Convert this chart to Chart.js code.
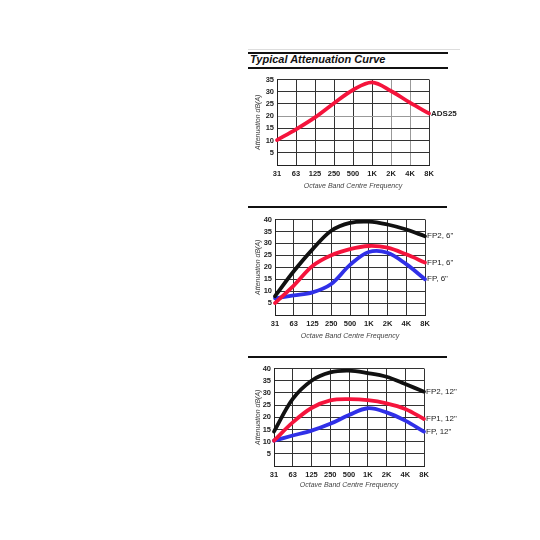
<!DOCTYPE html>
<html>
<head>
<meta charset="utf-8">
<script src="https://cdn.jsdelivr.net/npm/chart.js@4.4.0/dist/chart.umd.min.js"></script>
<style>
  html, body { margin: 0; padding: 0; background: #fff; }
  body { width: 540px; height: 540px; position: relative; overflow: hidden; font-family: "Liberation Sans", Arial, sans-serif; }
  .box { position: absolute; }
  .rule { position: absolute; background: #111; }
  #title { position: absolute; left: 250px; top: 53px; font: italic bold 11px "Liberation Sans", Arial, sans-serif; color: #111; }
</style>
</head>
<body>
<div class="rule" style="left:248px;top:49px;width:212px;height:1px;background:#ddd"></div>
<div class="rule" style="left:248px;top:52px;width:200px;height:2px"></div>
<div id="title">Typical Attenuation Curve</div>
<div class="rule" style="left:248px;top:67px;width:200px;height:2px"></div>
<div class="rule" style="left:248px;top:206px;width:199px;height:2px"></div>
<div class="rule" style="left:248px;top:356px;width:199px;height:2px"></div>

<div class="box" style="left:248px;top:72px;width:222px;height:125px"><canvas id="c1"></canvas></div>
<div class="box" style="left:248px;top:212px;width:222px;height:135px"><canvas id="c2"></canvas></div>
<div class="box" style="left:248px;top:361px;width:222px;height:135px"><canvas id="c3"></canvas></div>

<script>
// octave bands
const freqLabels = ["31", "63", "125", "250", "500", "1K", "2K", "4K", "8K"];

// chart 1
const ads25 = [10.2, 14.6, 19.5, 25.3, 30.7, 33.8, 30.3, 25.5, 21.1];

// chart 2 (6")
const fp2_6 = [7.9, 18.3, 27.5, 35.3, 38.6, 39.1, 37.9, 35.8, 33];
const fp1_6 = [5, 12.3, 20.5, 25, 27.6, 28.9, 28.2, 25.4, 22];
const fp_6 = [7, 8.2, 9.5, 13, 21, 26.4, 26.1, 21.3, 15];

// chart 3 (12")
const fp2_12 = [14.1, 27.5, 35, 38.4, 39.1, 38.1, 36.6, 33.6, 30.5];
const fp1_12 = [10.4, 17.9, 23.8, 26.9, 27.4, 27, 25.7, 23.4, 19.3];
const fp_12 = [10.4, 12.5, 14.5, 17.3, 20.9, 23.7, 22, 18.6, 14.1];

const RED = "#f5143c";
const BLACK = "#111111";
const BLUE = "#3030e8";

// writes each series' name just right of its last point
const endLabels = {
    id: "endLabels",
    afterDatasetsDraw(chart) {
        const ctx = chart.ctx;
        ctx.save();
        ctx.textBaseline = "middle";
        chart.data.datasets.forEach((ds, i) => {
            const pts = chart.getDatasetMeta(i).data;
            const last = pts[pts.length - 1];
            ctx.font = ds.labelFont || "8px 'Liberation Sans', Arial";
            ctx.fillStyle = "#222";
            ctx.fillText(ds.label, last.x + 2, last.y);
        });
        ctx.restore();
    }
};

function makeChart(id, datasets, yMax, pad, xHeight, gridX, gridY) {
    const ctx = document.getElementById(id).getContext("2d");
    return new Chart(ctx, {
        type: "line",
        data: { labels: freqLabels, datasets: datasets },
        plugins: [endLabels],
        options: {
            responsive: true,
            maintainAspectRatio: false,
            animation: false,
            layout: { padding: pad },
            elements: {
                point: { radius: 0 },
                line: { borderWidth: 3.8, tension: 0.35, borderCapStyle: "round", fill: false }
            },
            plugins: { legend: { display: false }, tooltip: { enabled: false } },
            scales: {
                x: {
                    afterFit: (s) => { s.height = xHeight; },
                    grid: { color: gridX || "#333", lineWidth: 1, drawTicks: false },
                    border: { color: "#222", width: 1 },
                    ticks: { color: "#222", padding: 4, maxRotation: 0, autoSkip: false,
                             font: { family: "'Liberation Sans', Arial", size: 7.5, weight: "bold" } },
                    title: { display: true, text: "Octave Band Centre Frequency", color: "#444",
                             padding: { top: 0, bottom: 7 },
                             font: { family: "'Liberation Sans', Arial", size: 7, style: "italic" } }
                },
                y: {
                    min: 0, max: yMax,
                    afterFit: (s) => { s.width = pad.yw; },
                    grid: { color: gridY || "#333", lineWidth: 1, drawTicks: false },
                    border: { color: "#222", width: 1 },
                    ticks: { stepSize: 5, autoSkip: false, color: "#222", padding: 3,
                             callback: (v) => (v === 0 ? "" : v),
                             font: { family: "'Liberation Sans', Arial", size: 7.5, weight: "bold" } },
                    title: { display: true, text: "Attenuation dB(A)", color: "#444",
                             padding: { top: 6, bottom: 0 },
                             font: { family: "'Liberation Sans', Arial", size: 7, style: "italic" } }
                }
            }
        }
    });
}

makeChart("c1", [
    { label: "ADS25", data: ads25, borderColor: RED, labelFont: "bold 8px 'Liberation Sans', Arial" }
], 35, { top: 6, right: 41, left: 0, bottom: 0, yw: 29 }, 32,
   (c) => (c.index === 6 || c.index === 7 ? "#999" : "#333"),
   (c) => (c.tick && c.tick.value === 20 ? "#999" : "#333"));

makeChart("c2", [
    { label: "FP2, 6\"", data: fp2_6, borderColor: BLACK },
    { label: "FP1, 6\"", data: fp1_6, borderColor: RED },
    { label: "FP, 6\"", data: fp_6, borderColor: BLUE }
], 40, { top: 6, right: 45, left: 0, bottom: 0, yw: 27 }, 32);

makeChart("c3", [
    { label: "FP2, 12\"", data: fp2_12, borderColor: BLACK },
    { label: "FP1, 12\"", data: fp1_12, borderColor: RED },
    { label: "FP, 12\"", data: fp_12, borderColor: BLUE }
], 40, { top: 7, right: 46, left: 0, bottom: 0, yw: 26 }, 30);
</script>
</body>
</html>
